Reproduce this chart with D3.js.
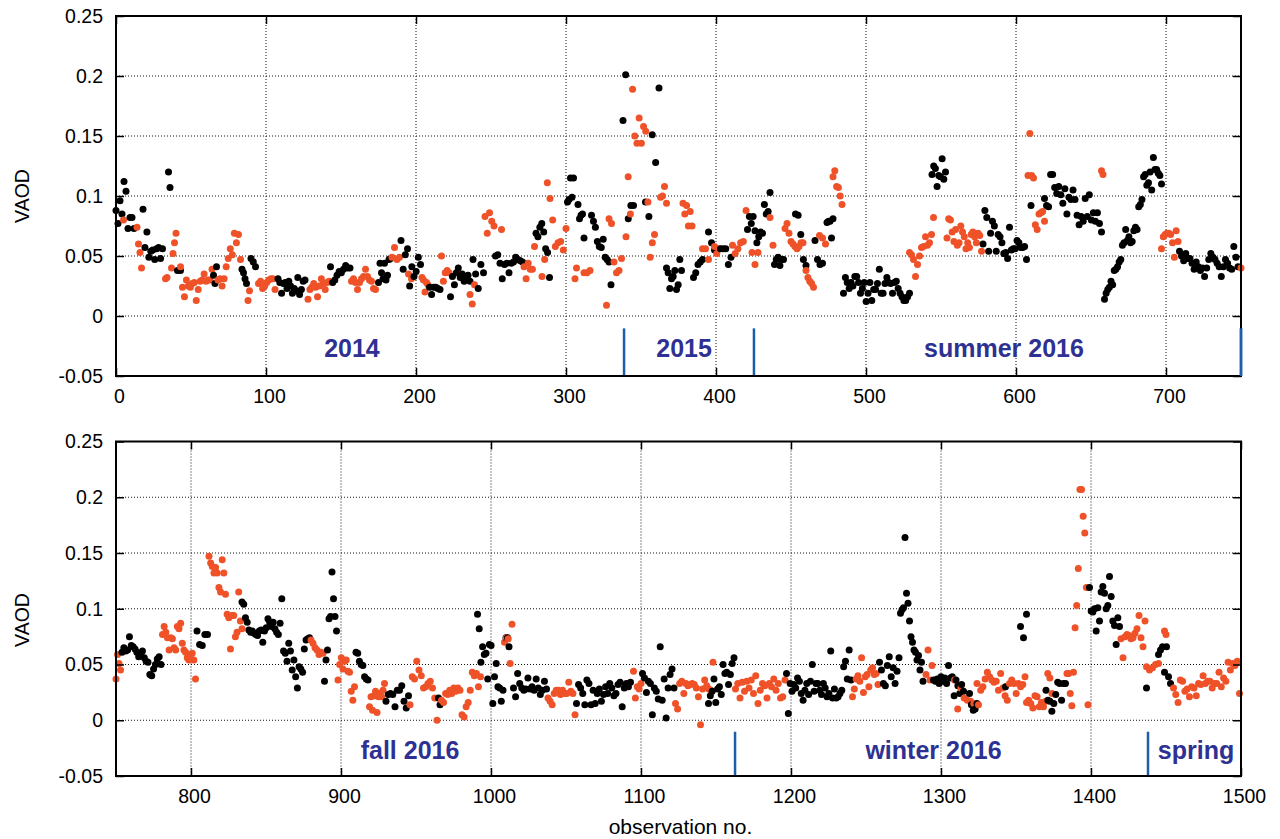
<!DOCTYPE html>
<html><head><meta charset="utf-8">
<script src="https://cdn.jsdelivr.net/npm/d3@7"></script>
<style>body{margin:0;background:#fff}svg{display:block}</style>
</head><body>
<svg id="c" width="1280" height="839"></svg>
<script>
// ---- data: runs of [firstObs, lastObs, [VAOD values]] ----
const topBlack = [
 [0,12,[.088,.077,.096,.085,.112,.104,.073,.082,.082,.073]],
 [18,31,[.089,.057,.070,.049,.054,.055,.047,.056,.057,.048,.056]],
 [35,36,[.120,.107]],
 [41,43,[.038,.038]],
 [65,67,[.034,.027,.041]],
 [84,87,[.039,.036,.031,.027]],
 [90,93,[.048,.045,.041]],
 [108,126,[.031,.028,.019,.027,.028,.023,.029,.025,.019,.023,.021,.032,.018,.022,.029,.030]],
 [143,156,[.041,.028,.030,.034,.037,.036,.039,.042,.040,.040]],
 [175,183,[.028,.044,.036,.031,.044,.030,.034,.047,.048]],
 [190,203,[.063,.039,.051,.056,.025,.041,.033,.037,.049,.043]],
 [209,216,[.024,.018,.024,.024,.023,.022]],
 [223,236,[.016,.033,.026,.036,.040,.032,.035,.029,.032,.034,.029]],
 [238,245,[.047,.035,.023,.043,.036]],
 [253,271,[.050,.051,.044,.031,.043,.044,.036,.044,.045,.049,.047,.046,.045]],
 [280,289,[.069,.066,.074,.077,.070,.056,.053,.032]],
 [301,305,[.095,.097,.115,.099,.115]],
 [308,312,[.093,.081,.084,.085,.065]],
 [317,330,[.084,.079,.074,.062,.058,.057,.064,.049,.047,.045,.026]],
 [338,345,[.163,.201,.081,.092,.092]],
 [353,362,[.095,.083,.151,.128,.190]],
 [367,377,[.040,.036,.023,.031,.033,.038,.022,.026,.047,.038]],
 [385,391,[.032,.036,.043,.045,.047]],
 [395,399,[.070,.061,.055]],
 [403,410,[.056,.056,.056,.043,.049]],
 [421,436,[.072,.083,.077,.083,.071,.061,.066,.070,.069,.093,.085,.087,.103]],
 [439,445,[.043,.047,.049,.042,.047,.047]],
 [453,460,[.085,.084,.068,.047,.042]],
 [466,471,[.063,.047,.043,.044]],
 [474,478,[.078,.079,.079,.065,.081]],
 [485,529,[.019,.032,.028,.023,.028,.025,.033,.033,.028,.019,.023,.028,.012,.019,.028,.013,.022,.022,.027,.039,.019,.019,.027,.032,.028,.027,.019,.028,.029,.023,.019,.016,.013,.013,.016,.019]],
 [544,553,[.118,.125,.123,.108,.117,.116,.131,.114,.120]],
 [578,607,[.060,.088,.082,.054,.069,.079,.075,.054,.068,.066,.061,.052,.053,.048,.074,.055,.056,.056,.063,.061,.057,.057,.058,.047]],
 [610,610,[.092]],
 [619,657,[.098,.092,.091,.118,.118,.107,.102,.108,.101,.094,.106,.085,.099,.097,.105,.097,.084,.076,.083,.079,.098,.083,.101,.080,.086,.079,.086,.077,.070]],
 [659,697,[.014,.019,.022,.024,.029,.026,.038,.039,.041,.045,.047,.059,.061,.072,.063,.066,.061,.062,.071,.074,.072,.091,.093,.097,.116,.118,.109,.111,.120,.105,.132,.122,.122,.119,.117,.110]],
 [709,748,[.054,.050,.046,.052,.048,.048,.044,.039,.045,.041,.038,.040,.033,.040,.047,.052,.049,.047,.044,.041,.033,.041,.047,.044,.040,.039,.058,.049,.041]]
];
const topRed = [
 [5,5,[.080]],
 [14,17,[.074,.060,.053,.040]],
 [33,34,[.031,.032]],
 [37,40,[.040,.052,.061,.069]],
 [43,64,[.041,.024,.016,.030,.025,.024,.027,.028,.013,.022,.029,.030,.035,.029,.030,.030,.039]],
 [68,83,[.030,.031,.025,.031,.041,.048,.056,.051,.069,.061,.068,.047]],
 [88,89,[.013,.021]],
 [95,106,[.027,.029,.023,.025,.028,.030,.031,.031,.022]],
 [128,142,[.014,.022,.024,.027,.024,.016,.025,.031,.027,.022,.028,.029]],
 [157,173,[.029,.031,.028,.022,.028,.031,.033,.039,.033,.030,.029,.023,.022]],
 [184,189,[.049,.057,.047,.049]],
 [195,197,[.035,.031]],
 [204,208,[.032,.030,.020,.028,.026]],
 [217,222,[.050,.029,.036,.038,.036]],
 [236,239,[.018,.010,.026]],
 [246,252,[.083,.069,.086,.079,.075]],
 [257,257,[.072]],
 [272,279,[.041,.031,.044,.039,.039,.058]],
 [284,300,[.033,.047,.111,.098,.080,.058,.061,.062,.055,.073]],
 [306,307,[.031,.040]],
 [312,316,[.036,.036,.038]],
 [327,337,[.009,.081,.077,.045,.036,.038,.048]],
 [340,359,[.066,.116,.085,.189,.150,.144,.165,.144,.158,.154,.095,.049,.061,.068]],
 [363,367,[.099,.100,.108,.094]],
 [378,384,[.094,.085,.092,.075,.087,.075]],
 [391,395,[.056,.056,.047]],
 [399,402,[.058,.052,.056]],
 [411,420,[.059,.052,.056,.061,.062,.088]],
 [424,428,[.053,.043,.053]],
 [436,438,[.082,.059]],
 [446,458,[.073,.077,.069,.062,.060,.058,.056,.058,.061,.061]],
 [460,465,[.038,.032,.029,.027,.024]],
 [469,473,[.067,.065,.060]],
 [478,484,[.116,.121,.108,.107,.100,.093]],
 [529,545,[.053,.051,.047,.033,.043,.050,.057,.058,.066,.059,.061,.068,.082]],
 [554,577,[.065,.081,.080,.070,.062,.072,.059,.061,.075,.070,.066,.056,.061,.057,.068,.070,.066,.061,.069,.067,.054]],
 [608,619,[.117,.152,.117,.115,.076,.072,.085,.086,.087,.079]],
 [657,658,[.121,.118]],
 [697,708,[.056,.066,.068,.069,.069,.068,.061,.049,.071,.062]],
 [750,750,[.040]]
];
const bottomBlack = [
 [754,780,[.061,.065,.062,.063,.075,.067,.066,.064,.061,.057,.060,.062,.056,.053,.052,.041,.040,.046,.050,.055,.057,.050]],
 [804,811,[.080,.068,.067,.077,.077]],
 [834,879,[.106,.104,.092,.088,.081,.079,.080,.078,.077,.076,.080,.081,.070,.080,.083,.091,.088,.084,.088,.082,.079,.077,.087,.109,.062,.060,.053,.069,.062,.045,.054,.039,.029,.048,.046,.043,.064,.072,.073,.074]],
 [889,897,[.035,.054,.063,.091,.093,.133,.109,.093,.080]],
 [910,918,[.061,.060,.053,.050,.049,.039,.037,.036]],
 [930,945,[.017,.023,.024,.023,.012,.027,.027,.031,.017,.011,.022]],
 [965,966,[.020,.014]],
 [991,1008,[.095,.082,.052,.066,.059,.060,.037,.068,.067,.015,.039,.051,.030,.029,.017,.027]],
 [1010,1012,[.074,.074,.066]],
 [1015,1037,[.029,.021,.042,.033,.029,.027,.028,.038,.028,.030,.027,.037,.029,.023,.027,.035,.028]],
 [1057,1093,[.015,.032,.029,.024,.014,.036,.033,.014,.027,.015,.024,.028,.017,.023,.030,.024,.033,.029,.022,.024,.032,.034,.012,.029,.033,.030,.034]],
 [1101,1122,[.042,.038,.025,.035,.033,.005,.029,.026,.019,.066,.018,.037,.002,.029,.041,.046,.029]],
 [1145,1162,[.015,.022,.026,.037,.016,.028,.030,.023,.050,.042,.043,.032,.041,.051,.056]],
 [1197,1240,[.042,.006,.033,.026,.032,.029,.038,.035,.024,.018,.027,.033,.023,.035,.050,.026,.033,.033,.027,.023,.033,.029,.021,.024,.062,.020,.028,.020,.021,.024,.027,.048,.053,.037,.063,.036]],
 [1259,1272,[.052,.045,.033,.031,.049,.057,.039,.047,.033,.044,.056]],
 [1273,1288,[.096,.099,.101,.164,.114,.105,.089,.075,.070,.063,.061,.054,.058,.045,.052,.035]],
 [1295,1315,[.036,.035,.037,.033,.039,.035,.038,.033,.049,.038,.039,.022,.036,.031,.024,.032,.026]],
 [1319,1324,[.024,.014,.009,.010,.015]],
 [1343,1343,[.030]],
 [1353,1357,[.084,.074,.095]],
 [1370,1383,[.027,.018,.017,.008,.015,.023,.034,.033,.018,.033,.033]],
 [1399,1419,[.119,.098,.097,.100,.080,.101,.089,.115,.120,.114,.100,.103,.129,.111,.089,.085,.068,.092,.084]],
 [1437,1437,[.029]],
 [1445,1453,[.059,.063,.066,.043,.066,.039,.033]]
];
const bottomRed = [
 [750,753,[.037,.059,.051,.045]],
 [781,803,[.077,.084,.079,.074,.063,.074,.073,.065,.063,.084,.082,.087,.069,.063,.061,.056,.054,.059,.060,.054,.037]],
 [812,834,[.147,.141,.138,.132,.137,.132,.119,.115,.144,.132,.113,.095,.092,.064,.094,.094,.075,.079,.115,.089,.082]],
 [880,888,[.072,.069,.065,.063,.059,.061,.060]],
 [898,909,[.036,.050,.056,.046,.053,.054,.044,.043,.026,.018,.030]],
 [919,929,[.012,.021,.009,.022,.026,.007,.021,.024,.021,.027,.033]],
 [946,964,[.014,.039,.037,.053,.045,.040,.029,.030,.033,.035,.029,.020,.000]],
 [967,993,[.018,.016,.024,.023,.027,.024,.029,.026,.029,.027,.005,.003,.012,.016,.027,.043,.040,.042,.030,.039]],
 [1009,1014,[.070,.074,.073,.051,.086]],
 [1038,1056,[.020,.017,.014,.024,.027,.027,.023,.027,.024,.024,.034,.026,.024,.005]],
 [1095,1100,[.044,.020,.030,.028,.033]],
 [1123,1148,[.015,.010,.033,.035,.024,.033,.031,.032,.033,.032,.029,.021,-.004,.028,.036,.031,.028,.027,.052]],
 [1163,1196,[.028,.033,.020,.034,.026,.035,.029,.036,.024,.040,.015,.027,.033,.031,.020,.033,.030,.037,.027,.033,.020,.021,.036]],
 [1241,1258,[.021,.028,.037,.040,.035,.056,.025,.039,.041,.030,.045,.047,.041,.042,.032]],
 [1290,1294,[.041,.063,.036,.049]],
 [1309,1324,[.036,.010,.029,.020,.018,.017,.015,.033]],
 [1325,1356,[.014,.027,.030,.037,.043,.039,.036,.034,.035,.027,.042,.029,.022,.018,.033,.036,.033,.024,.033,.030,.032,.039]],
 [1357,1374,[.016,.018,.015,.011,.022,.021,.012,.016,.012,.017,.042,.038,.024]],
 [1384,1398,[.042,.042,.024,.013,.043,.083,.103,.136,.207,.207,.183,.168,.119,.014]],
 [1420,1436,[.073,.056,.075,.077,.076,.073,.074,.078,.082,.094,.074,.066,.089]],
 [1437,1445,[.048,.045,.047,.050,.051]],
 [1449,1450,[.080,.077]],
 [1455,1499,[.029,.023,.016,.036,.035,.026,.028,.021,.030,.029,.022,.033,.032,.040,.033,.035,.035,.029,.033,.033,.043,.030,.038,.035,.052,.045,.051,.049,.053,.024]]
];
const yTicks = [-0.05, 0, 0.05, 0.1, 0.15, 0.2, 0.25];
const yTickLabels = ["-0.05","0","0.05","0.1","0.15","0.2","0.25"];
const topXTicks = [0,100,200,300,400,500,600,700];
const bottomXTicks = [800,900,1000,1100,1200,1300,1400,1500];
const topBreaks = [338.7, 425.3, 750];
const bottomBreaks = [1162.7, 1438];
const topSeasons = ["2014","2015","summer 2016"];
const topSeasonObs = [157.3, 378.7, 592];
const bottomSeasons = ["fall 2016","winter 2016","spring"];
const bottomSeasonObs = [946, 1295, 1470];

// ---- drawing ----
const svg = d3.select("#c");
const FONT = "'Liberation Sans', Arial, Helvetica, sans-serif";
const L = 116, R = 1241;
const RED = "#ef5228", NAVY = "#2e3192", BLUE = "#1b5eab";

function expand(runs, color){
  const pts = [];
  runs.forEach(([a,b,vals]) => {
    const n = vals.length;
    vals.forEach((v,i) => pts.push({o: n>1 ? a + (b-a)*i/(n-1) : a, v, color}));
  });
  return pts;
}

const panels = [
  {dom:[0,750], top:16, bot:376, xt:topXTicks, black:topBlack, red:topRed,
   breaks:topBreaks, names:topSeasons, nameObs:topSeasonObs, labelY:196},
  {dom:[750,1500], top:441.5, bot:776, xt:bottomXTicks, black:bottomBlack, red:bottomRed,
   breaks:bottomBreaks, names:bottomSeasons, nameObs:bottomSeasonObs, labelY:620}
];

panels.forEach(p => {
  const x = d3.scaleLinear().domain(p.dom).range([L, R]);
  const y = d3.scaleLinear().domain([-0.05, 0.25]).range([p.bot, p.top]);
  const g = svg.append("g");

  // grid
  const grid = g.append("g").attr("stroke","#111").attr("stroke-width",1).attr("stroke-dasharray","1,2");
  grid.selectAll(".gy").data(yTicks.filter(d => d > -0.05 && d < 0.25)).join("line")
    .attr("x1",L).attr("x2",R).attr("y1",d=>y(d)).attr("y2",d=>y(d));
  grid.selectAll(".gx").data(p.xt.filter(d => d > p.dom[0] && d < p.dom[1])).join("line")
    .attr("y1",p.top).attr("y2",p.bot).attr("x1",d=>x(d)).attr("x2",d=>x(d));

  // season separators
  g.append("g").selectAll("line").data(p.breaks).join("line")
    .attr("x1",d=>x(d)).attr("x2",d=>x(d)).attr("y1",y(-0.05)).attr("y2",y(-0.0103))
    .attr("stroke",BLUE).attr("stroke-width",2.5);

  // season labels
  g.append("g").selectAll("text").data(p.names).join("text")
    .attr("x",(d,i)=>x(p.nameObs[i])).attr("y",y(-0.0345))
    .attr("text-anchor","middle").attr("font-family",FONT).attr("font-weight","bold")
    .attr("font-size",25).attr("fill",NAVY).text(d=>d);

  // points
  const pts = expand(p.black,"#000").concat(expand(p.red,RED)).sort((a,b)=>a.o-b.o);
  g.append("g").selectAll("circle").data(pts).join("circle")
    .attr("cx",d=>x(d.o)).attr("cy",d=>y(d.v)).attr("r",3.5).attr("fill",d=>d.color);

  // axes
  const styleAxis = sel => {
    sel.select(".domain").remove();
    sel.selectAll("line").attr("stroke","#000").attr("stroke-width",1.5);
    sel.selectAll("text").attr("font-family",FONT).attr("font-size",19.5).attr("fill","#000");
  };
  g.append("g").attr("transform",`translate(${L},0)`)
    .call(d3.axisLeft(y).tickValues(yTicks).tickFormat((d,i)=>yTickLabels[i]).tickSize(-8).tickPadding(13))
    .call(styleAxis);
  g.append("g").attr("transform",`translate(${R},0)`)
    .call(d3.axisRight(y).tickValues(yTicks).tickFormat("").tickSize(-8))
    .call(styleAxis);
  g.append("g").attr("transform",`translate(0,${p.bot})`)
    .call(d3.axisBottom(x).tickValues(p.xt).tickFormat(d=>String(d)).tickSize(-8).tickPadding(13))
    .call(styleAxis)
    .call(s => s.selectAll("text").attr("dx", 3));
  g.append("g").attr("transform",`translate(0,${p.top})`)
    .call(d3.axisTop(x).tickValues(p.xt).tickFormat("").tickSize(-8))
    .call(styleAxis);

  // frame
  g.append("rect").attr("x",L).attr("y",p.top).attr("width",R-L).attr("height",p.bot-p.top)
    .attr("fill","none").attr("stroke","#000").attr("stroke-width",2);
  // right-edge separator drawn over frame
  g.append("g").selectAll("line").data(p.breaks.filter(d=>d>=p.dom[1])).join("line")
    .attr("x1",d=>x(d)).attr("x2",d=>x(d)).attr("y1",y(-0.05)).attr("y2",y(-0.0103))
    .attr("stroke",BLUE).attr("stroke-width",2.5);

  // y label
  svg.append("text").attr("transform",`translate(22,${p.labelY}) rotate(-90)`)
    .attr("text-anchor","middle").attr("dy","0.35em").attr("font-family",FONT)
    .attr("font-size",19.5).text("VAOD");
});

svg.append("text").attr("x",(L+R)/2 + 2).attr("y",834).attr("text-anchor","middle")
  .attr("font-family",FONT).attr("font-size",21).text("observation no.");
</script>
</body></html>
